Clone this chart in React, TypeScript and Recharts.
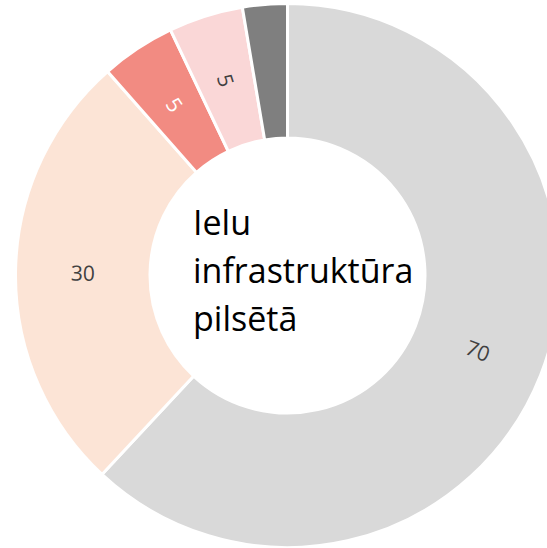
import { PieChart, Pie, Cell } from 'recharts';

// Slice values, clockwise from 12 o'clock
const sliceNames = ['A', 'B', 'C', 'D', 'E'];
const sliceValues = [70, 30, 5, 5, 3];
const sliceLabels = ['70', '30', '5', '5', ''];
const sliceColors = ['#d9d9d9', '#fce4d6', '#f28b82', '#fad7d7', '#7f7f7f'];
const labelColors = ['#404040', '#404040', '#ffffff', '#404040', '#404040'];
const centerLines = ['Ielu', 'infrastruktūra', 'pilsētā'];

const data = sliceNames.map((name, i) => ({ name, value: sliceValues[i] }));

const CX = 287.5;
const CY = 275.5;
const INNER = 137.5;
const OUTER = 272;
const RAD = Math.PI / 180;

const renderLabel = (props: any) => {
  const { midAngle, index } = props;
  const text = sliceLabels[index];
  if (!text) return null;
  const r = (INNER + OUTER) / 2;
  const x = CX + r * Math.cos(-midAngle * RAD);
  const y = CY + r * Math.sin(-midAngle * RAD);
  // rotate text tangentially, keep it upright
  let rot = (((-midAngle) % 360) + 360) % 360;
  if (rot > 90 && rot < 270) rot -= 180;
  else if (rot >= 270) rot -= 360;
  return (
    <text
      x={x}
      y={y}
      fill={labelColors[index]}
      fontSize={21}
      fontFamily="'Open Sans', sans-serif"
      textAnchor="middle"
      dominantBaseline="central"
      transform={`rotate(${rot} ${x} ${y})`}
    >
      {text}
    </text>
  );
};

export default function App() {
  return (
    <div style={{ position: 'fixed', left: 0, top: 0, width: 547, height: 548, background: '#fff', overflow: 'hidden' }}>
      <PieChart width={547} height={548} margin={{ top: 0, right: 0, bottom: 0, left: 0 }}>
        <Pie
          data={data}
          dataKey="value"
          cx={CX}
          cy={CY}
          innerRadius={INNER}
          outerRadius={OUTER}
          startAngle={90}
          endAngle={-270}
          stroke="#ffffff"
          strokeWidth={3}
          label={renderLabel}
          labelLine={false}
          isAnimationActive={false}
        >
          {data.map((entry, i) => (
            <Cell key={`cell-${entry.name}`} fill={sliceColors[i]} />
          ))}
        </Pie>
      </PieChart>
      <div
        style={{
          position: 'absolute',
          left: 193,
          top: 198,
          fontFamily: "'Open Sans', sans-serif",
          fontSize: 34,
          lineHeight: '48px',
          color: '#000',
          whiteSpace: 'nowrap',
        }}
      >
        {centerLines.map((line) => (
          <div key={line}>{line}</div>
        ))}
      </div>
    </div>
  );
}
